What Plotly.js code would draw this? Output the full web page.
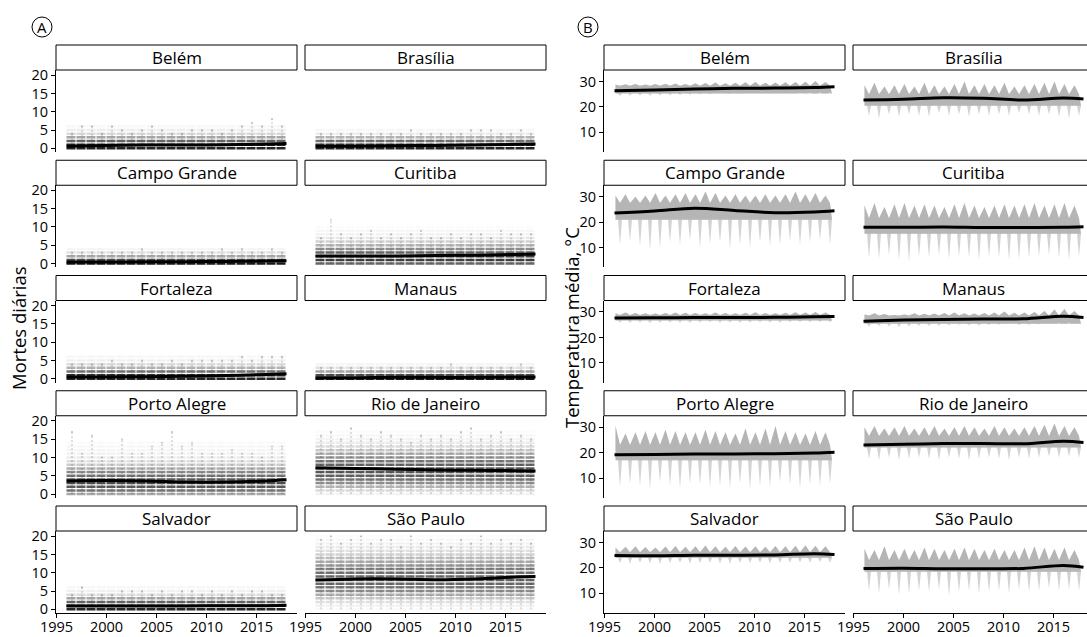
<!DOCTYPE html>
<html>
<head>
<meta charset="utf-8">
<script src="https://cdn.plot.ly/plotly-3.0.1.min.js"></script>
<style>
html,body{margin:0;padding:0;overflow:hidden;background:#fff;}
#chart{width:1100px;height:637px;}
</style>
</head>
<body>
<div id="chart"></div>
<script>
// ---------------- DATA ----------------
const cities = ["Belém","Brasília","Campo Grande","Curitiba","Fortaleza","Manaus","Porto Alegre","Rio de Janeiro","Salvador","São Paulo"];
const years = [1996,1997,1998,1999,2000,2001,2002,2003,2004,2005,2006,2007,2008,2009,2010,2011,2012,2013,2014,2015,2016,2017];
const xTicks = [1995,2000,2005,2010,2015];
const yTicksMortes = [0,5,10,15,20];
const yTicksTemp = [10,20,30];
const smoothX = [1996,2000,2004,2008,2012,2016,2018];
const dataStart = 1996, dataEnd = 2018;

// Panel A: smoothed daily deaths (at smoothX), per city
const mortesSuave = [
  [0.6,0.8,0.9,0.9,1.0,1.2,1.3],   // Belém
  [0.6,0.6,0.7,0.8,0.9,1.1,1.2],   // Brasília
  [0.4,0.4,0.5,0.5,0.6,0.7,0.8],   // Campo Grande
  [2.1,2.1,2.1,2.2,2.3,2.5,2.6],   // Curitiba
  [0.5,0.5,0.6,0.7,0.9,1.2,1.4],   // Fortaleza
  [0.3,0.3,0.4,0.4,0.4,0.5,0.5],   // Manaus
  [3.6,3.7,3.6,3.3,3.3,3.6,3.9],   // Porto Alegre
  [7.2,7.0,6.8,6.6,6.5,6.4,6.3],   // Rio de Janeiro
  [0.9,0.9,0.9,0.9,1.0,1.0,1.1],   // Salvador
  [8.0,8.3,8.3,8.1,8.3,8.8,9.0]    // São Paulo
];
// Panel A: darkness of the point cloud at each daily count 0,1,2,...
const mortesDensidade = [
  [0.85,0.85,0.6,0.35,0.15,0.07,0.03],
  [0.85,0.8,0.55,0.3,0.08,0.03],
  [0.9,0.7,0.35,0.12,0.04],
  [0.6,0.75,0.75,0.6,0.45,0.3,0.18,0.09,0.05,0.03,0.015],
  [0.85,0.8,0.55,0.3,0.14,0.06,0.03],
  [0.9,0.7,0.35,0.12,0.04],
  [0.35,0.55,0.65,0.7,0.65,0.55,0.45,0.32,0.2,0.13,0.08,0.05,0.04,0.03,0.02],
  [0.05,0.15,0.3,0.45,0.55,0.62,0.65,0.65,0.6,0.52,0.42,0.32,0.22,0.14,0.08,0.05,0.03,0.015],
  [0.85,0.85,0.6,0.35,0.14,0.06,0.03],
  [0.02,0.05,0.12,0.22,0.33,0.45,0.52,0.58,0.6,0.58,0.55,0.5,0.42,0.34,0.26,0.18,0.12,0.08,0.05,0.03,0.015]
];
// Panel A: yearly maximum of daily deaths (sparse dots)
const mortesMaxAnual = [
  [4,6,6,4,6,5,4,5,6,5,4,4,5,5,5,4,5,6,7,6,8,6],
  [4,4,4,4,4,4,4,4,4,5,4,4,4,4,4,5,5,5,4,4,5,4],
  [3,3,3,3,3,3,3,4,3,3,3,3,3,3,3,4,3,4,3,3,4,3],
  [7,12,8,7,8,9,7,8,7,8,9,7,7,8,7,8,8,7,9,8,8,8],
  [4,4,4,4,5,4,4,5,4,4,5,4,5,5,5,5,5,6,5,6,6,6],
  [3,3,3,3,3,3,3,3,3,3,3,3,3,4,3,3,3,3,3,3,4,3],
  [17,11,16,10,10,15,11,11,13,14,17,13,14,11,11,11,12,11,11,10,13,13],
  [16,17,15,18,16,15,17,16,15,14,16,15,16,15,17,18,15,16,17,15,16,15],
  [4,6,4,4,4,5,5,5,4,5,4,5,5,4,5,4,5,4,5,5,4,4],
  [19,20,18,19,20,18,19,19,17,20,18,19,18,17,19,18,20,18,19,18,19,18]
];

// Panel B: smoothed mean temperature (at smoothX)
const tempSuave = [
  [26.4,26.6,27.0,27.3,27.4,27.6,27.9],
  [22.7,23.0,23.6,23.4,22.7,23.5,23.1],
  [23.6,24.4,25.5,24.6,23.7,24.0,24.5],
  [18.0,18.0,18.1,17.9,17.9,18.0,18.2],
  [27.6,27.7,27.8,27.8,27.9,28.1,28.2],
  [26.4,26.8,27.0,27.2,27.3,28.3,27.8],
  [19.2,19.3,19.5,19.5,19.6,19.9,20.2],
  [23.0,23.3,23.6,23.6,23.5,24.5,24.0],
  [24.9,24.8,25.0,25.0,25.1,25.6,25.3],
  [19.8,19.9,19.7,19.7,19.8,21.0,20.3]
];
// Panel B: yearly warm-season top of the cloud
const tempPicoVerao = [
  [28.8,28.9,29.0,28.8,29.0,29.1,29.2,29.0,29.3,29.4,29.6,29.3,29.5,29.7,29.8,29.5,29.6,29.7,29.8,29.9,30.2,29.8],
  [28.5,29.5,28.0,28.5,29.0,28.0,29.5,28.5,28.0,29.0,30.0,28.5,29.0,28.5,29.5,28.0,28.5,29.0,29.5,30.0,29.0,28.5],
  [30.5,31.0,30.0,30.5,31.5,30.5,31.0,31.5,31.0,32.0,31.5,30.5,31.0,30.5,30.5,31.0,30.5,31.0,32.0,31.0,31.5,30.5],
  [26.5,27.5,26.0,27.0,27.5,26.5,27.0,26.5,26.0,27.0,27.5,26.5,26.0,26.5,27.0,26.5,27.0,27.5,26.5,27.0,27.5,26.5],
  [29.5,29.8,29.6,29.5,29.4,29.6,29.8,29.7,29.6,29.5,29.8,29.6,29.5,29.7,29.9,29.6,29.5,29.7,29.9,29.8,30.0,29.8],
  [29.0,29.5,29.2,28.8,29.0,29.5,29.3,29.4,29.6,29.8,29.5,29.4,29.6,29.8,30.2,29.7,29.8,30.0,30.4,31.0,31.2,30.4],
  [30.5,27.5,28.0,28.5,28.0,29.0,28.5,28.0,28.0,29.0,28.5,28.0,27.5,29.5,28.0,29.5,30.5,28.5,28.0,27.5,28.5,28.0],
  [30.0,30.5,29.5,30.0,30.5,29.5,30.0,30.5,29.5,30.0,30.5,30.0,29.5,30.5,30.0,29.5,30.0,30.5,31.0,31.5,30.5,30.0],
  [28.0,28.3,28.5,28.2,28.0,28.4,28.6,28.3,28.5,28.8,28.5,28.3,28.6,28.4,28.5,28.3,28.6,28.5,28.7,28.9,28.7,28.5],
  [27.5,27.0,28.5,27.0,27.5,27.0,28.0,27.5,27.0,27.5,28.0,27.5,27.0,27.5,27.0,27.0,28.0,28.5,28.0,27.5,28.0,27.0]
];
// Panel B: yearly cold-season bottom of the cloud
const tempMinInverno = [
  [24.3,24.4,24.5,24.4,24.5,24.6,24.7,24.8,25.0,25.0,25.2,25.1,25.2,25.3,25.4,25.3,25.4,25.5,25.6,25.7,25.9,25.8],
  [16.5,15.5,17.0,16.0,17.0,16.5,16.0,17.5,16.5,17.0,16.0,17.0,16.5,17.0,16.5,17.5,17.0,16.5,17.0,16.0,15.5,16.5],
  [11.0,12.5,10.5,9.0,10.0,12.0,11.0,13.0,10.0,11.5,12.0,9.5,11.0,10.0,12.0,10.5,11.0,12.5,11.0,12.0,13.0,11.0],
  [6.0,5.5,7.0,5.0,4.5,6.5,6.0,7.0,5.5,6.5,6.0,5.0,6.5,6.0,5.0,5.5,6.0,6.5,7.0,6.0,5.0,6.5],
  [25.8,25.7,25.9,25.6,25.8,25.9,25.8,25.7,25.9,26.0,25.8,25.9,25.8,25.9,26.0,25.9,25.8,26.0,26.1,26.0,26.1,26.0],
  [24.2,24.5,24.3,24.0,24.3,24.6,24.5,24.6,24.8,25.0,24.8,24.7,24.9,25.0,25.2,24.9,25.0,25.2,25.5,25.8,25.9,25.4],
  [6.5,8.0,7.0,5.5,8.5,7.0,6.0,8.0,7.5,6.5,7.0,6.0,8.0,5.5,7.0,6.5,8.5,7.5,6.0,7.5,7.0,8.0],
  [17.5,17.0,18.0,17.0,17.5,18.0,17.5,17.0,18.0,17.5,17.0,17.5,18.0,17.5,17.0,18.0,17.5,18.0,18.5,18.0,18.5,18.0],
  [21.8,21.5,22.0,21.7,21.5,21.8,22.0,21.6,21.8,22.0,21.7,21.5,21.9,21.8,22.0,21.7,21.9,22.0,22.2,22.0,22.3,22.0],
  [11.0,10.0,11.5,9.5,10.0,11.0,10.5,11.5,9.0,10.5,11.0,10.0,10.5,11.0,10.0,11.5,10.5,11.0,12.0,11.0,11.5,11.0]
];
// Panel B: cold-season top and warm-season bottom of the cloud (per city)
const tempTopoInverno = [28.3,25.0,27.5,21.5,28.8,28.6,23.0,26.5,26.2,23.0];
const tempBaseVerao   = [25.3,20.5,21.0,15.5,26.6,25.4,17.0,22.0,24.0,18.5];

// ---------------- LAYOUT GEOMETRY ----------------
const W = 1100, H = 637;
const FONT = "Open Sans, Lato, DejaVu Sans, sans-serif";
const colPx = [[[56,297],[305,546]], [[604,845],[853,1094]]];
const rowPitch = 115.25, stripTop0 = 45, stripH = 25, plotH = 82;
const px = p => p / W;
const py = p => 1 - p / H;

const traces = [];
const layout = {
  width: W, height: H,
  margin: {l:0, r:0, t:0, b:0},
  paper_bgcolor: "#fff", plot_bgcolor: "rgba(0,0,0,0)",
  showlegend: false,
  font: {family: FONT, color: "#000", size: 15},
  shapes: [], annotations: []
};

for (let p = 0; p < 2; p++) {
  for (let k = 0; k < 10; k++) {
    const r = Math.floor(k / 2), c = k % 2;
    const n = p * 10 + k + 1;
    const xa = "xaxis" + n, ya = "yaxis" + n;
    const xr = "x" + n, yr = "y" + n;
    const sTop = stripTop0 + rowPitch * r;
    const pTop = sTop + stripH, pBot = pTop + plotH;
    const [x0, x1] = colPx[p][c];
    const bottom = (r === 4), left = (c === 0);

    layout[xa] = {
      domain: [px(x0), px(x1)], anchor: yr,
      range: [1994.95, 2019.05], showgrid: false, zeroline: false,
      showline: bottom, linecolor: "#000", linewidth: 1,
      ticks: bottom ? "outside" : "", ticklen: 4, tickcolor: "#000",
      tickvals: xTicks, showticklabels: bottom, ticklabelstandoff: -3,
      tickfont: {size: 14.5, family: FONT, color: "#000"}
    };
    layout[ya] = {
      domain: [py(pBot), py(pTop)], anchor: xr,
      range: p === 0 ? [-1.0, 21.4] : [2.3, 34.5],
      showgrid: false, zeroline: false,
      showline: left, linecolor: "#000", linewidth: 1,
      ticks: left ? "outside" : "", ticklen: 4, tickcolor: "#000",
      tickvals: p === 0 ? yTicksMortes : yTicksTemp, showticklabels: left,
      tickfont: {size: 14.5, family: FONT, color: "#000"}
    };

    // strip
    layout.shapes.push({type:"rect", xref:"paper", yref:"paper",
      x0: px(x0), x1: px(x1), y0: py(pTop), y1: py(sTop),
      line:{color:"#000", width:1}, fillcolor:"#fff"});
    layout.annotations.push({xref:"paper", yref:"paper", x: px((x0+x1)/2), y: py(sTop + stripH/2),
      text: cities[k], showarrow:false, xanchor:"center", yanchor:"middle",
      font:{size:17, family:FONT, color:"#000"}});

    if (p === 0) {
      // cloud of daily counts: one band per count level
      mortesDensidade[k].forEach((a, lvl) => {
        traces.push({type:"scatter", mode:"lines", xaxis:xr, yaxis:yr,
          x:[dataStart, dataEnd], y:[lvl, lvl], hoverinfo:"skip",
          line:{color:`rgba(0,0,0,${a})`, width:2.5, dash:"9px,1px"}});
      });
      // sparse high values: yearly columns
      const sx = [], sy = [];
      years.forEach((yr_, i) => { sx.push(yr_ + 0.55, yr_ + 0.55, null); sy.push(0, mortesMaxAnual[k][i], null); });
      traces.push({type:"scatter", mode:"lines", xaxis:xr, yaxis:yr, x:sx, y:sy, hoverinfo:"skip",
        line:{color:"rgba(0,0,0,0.12)", width:2, dash:"2px,2px"}});
      traces.push({type:"scatter", mode:"markers", xaxis:xr, yaxis:yr,
        x: years.map(v => v + 0.55), y: mortesMaxAnual[k], hoverinfo:"skip",
        marker:{size:2, color:"rgba(0,0,0,0.2)"}});
      traces.push({type:"scatter", mode:"lines", xaxis:xr, yaxis:yr,
        x: smoothX, y: mortesSuave[k], line:{color:"#000", width:3, shape:"spline"}});
    } else {
      const ux = [], uy = [], lx = [], ly = [], bx = [], by = [];
      years.forEach((yr_, i) => {
        ux.push(yr_ + 0.1, yr_ + 0.55); uy.push(tempPicoVerao[k][i], tempTopoInverno[k]);
        lx.push(yr_ + 0.1, yr_ + 0.35, yr_ + 0.55, yr_ + 0.75);
        ly.push(tempBaseVerao[k], tempBaseVerao[k], tempMinInverno[k][i], tempBaseVerao[k]);
        bx.push(yr_ + 0.1, yr_ + 0.75); by.push(tempBaseVerao[k], tempBaseVerao[k]);
      });
      // whole cloud, including sparse cold spikes (light)
      traces.push({type:"scatter", mode:"lines", xaxis:xr, yaxis:yr,
        x: ux.concat(lx.slice().reverse()), y: uy.concat(ly.slice().reverse()),
        fill:"toself", fillcolor:"rgba(150,150,150,0.42)", line:{width:0, color:"rgba(0,0,0,0)"}, hoverinfo:"skip"});
      // dense core of the cloud
      traces.push({type:"scatter", mode:"lines", xaxis:xr, yaxis:yr,
        x: ux.concat(bx.slice().reverse()), y: uy.concat(by.slice().reverse()),
        fill:"toself", fillcolor:"rgba(140,140,140,0.42)", line:{width:0, color:"rgba(0,0,0,0)"}, hoverinfo:"skip"});
      traces.push({type:"scatter", mode:"lines", xaxis:xr, yaxis:yr,
        x: smoothX, y: tempSuave[k], line:{color:"#000", width:3, shape:"spline"}});
    }
  }
}

// panel letters
[["A", 42], ["B", 588]].forEach(([t, cx]) => {
  layout.shapes.push({type:"circle", xref:"paper", yref:"paper",
    x0: px(cx-10), x1: px(cx+10), y0: py(37), y1: py(17), line:{color:"#000", width:1}});
  layout.annotations.push({xref:"paper", yref:"paper", x: px(cx), y: py(27), text: t,
    showarrow:false, xanchor:"center", yanchor:"middle", font:{size:15, family:FONT}});
});
// axis titles
layout.annotations.push({xref:"paper", yref:"paper", x: px(18), y: py(328), text:"Mortes diárias",
  textangle:-90, showarrow:false, xanchor:"center", yanchor:"middle", font:{size:18.5, family:FONT}});
layout.annotations.push({xref:"paper", yref:"paper", x: px(571), y: py(328), text:"Temperatura média, °C",
  textangle:-90, showarrow:false, xanchor:"center", yanchor:"middle", font:{size:18.5, family:FONT}});

Plotly.newPlot("chart", traces, layout, {staticPlot:true, displayModeBar:false});
</script>
</body>
</html>
